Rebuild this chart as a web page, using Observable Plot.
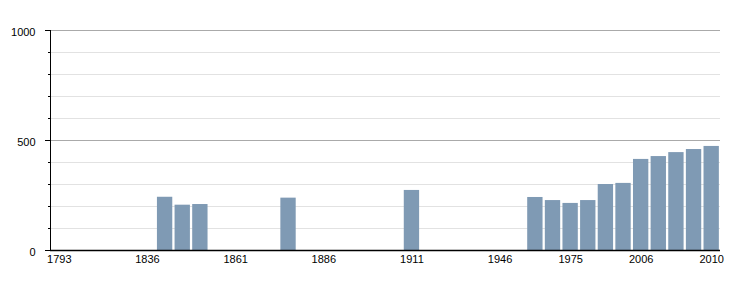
<!DOCTYPE html>
<html>
<head>
<meta charset="utf-8">
<script src="https://cdn.jsdelivr.net/npm/d3@7"></script>
<script src="https://cdn.jsdelivr.net/npm/@observablehq/plot@0.6"></script>
<style>
  html, body { margin: 0; padding: 0; background: #fff; }
  #chart svg { display: block; }
</style>
</head>
<body>
<div id="chart"></div>
<script>
const years = ["1793","1800","1806","1821","1831","1836","1841","1846","1851","1856","1861","1866","1872","1876","1881","1886","1891","1896","1901","1906","1911","1921","1926","1931","1936","1946","1954","1962","1968","1975","1982","1990","1999","2006","2007","2008","2009","2010"];
const population = [null,null,null,null,null,null,242,206,209,null,null,null,null,238,null,null,null,null,null,null,273,null,null,null,null,null,null,241,227,214,227,300,305,414,427,445,459,473];
const xTickLabels = ["1793","1836","1861","1886","1911","1946","1975","2006","2010"];
const yMajorTicks = [0, 500, 1000];
const yMinorTicks = [100, 200, 300, 400, 600, 700, 800, 900];

const data = years.map((y, i) => ({year: y, pop: population[i]})).filter(d => d.pop != null);

const chart = Plot.plot({
  width: 750,
  height: 300,
  marginLeft: 50,
  marginRight: 30,
  marginTop: 30,
  marginBottom: 50,
  style: {fontFamily: "'Liberation Sans', Arial, sans-serif", fontSize: "11px", color: "#000"},
  x: {domain: years, paddingInner: 0.13, paddingOuter: 0.065, round: false, axis: null, label: null},
  y: {domain: [0, 1000], axis: null, label: null},
  marks: [
    Plot.ruleY(yMinorTicks, {stroke: "#e2e2e2", strokeWidth: 1}),
    Plot.ruleY([500, 1000], {stroke: "#aaaaaa", strokeWidth: 1}),
    Plot.barY(data, {x: "year", y: "pop", fill: "#7f9ab4"}),
    Plot.axisY(yMinorTicks, {tickSize: 2, tickFormat: () => "", stroke: "#000", label: null}),
    Plot.axisY(yMajorTicks, {tickSize: 5, tickFormat: () => "", stroke: "#000", label: null}),
    Plot.text(yMajorTicks, {y: d => d, text: d => String(d), frameAnchor: "left", textAnchor: "end", dx: -15, dy: 1.5, fill: "#000", fontSize: 11}),
    Plot.frame({anchor: "left", stroke: "#000", strokeOpacity: 1}),
    Plot.ruleY([0], {stroke: "#000", strokeWidth: 1.5}),
    Plot.axisX(xTickLabels, {tickSize: 0, tickPadding: 5, fill: "#000", fontSize: 11, label: null})
  ]
});
document.getElementById("chart").appendChild(chart);
</script>
</body>
</html>
